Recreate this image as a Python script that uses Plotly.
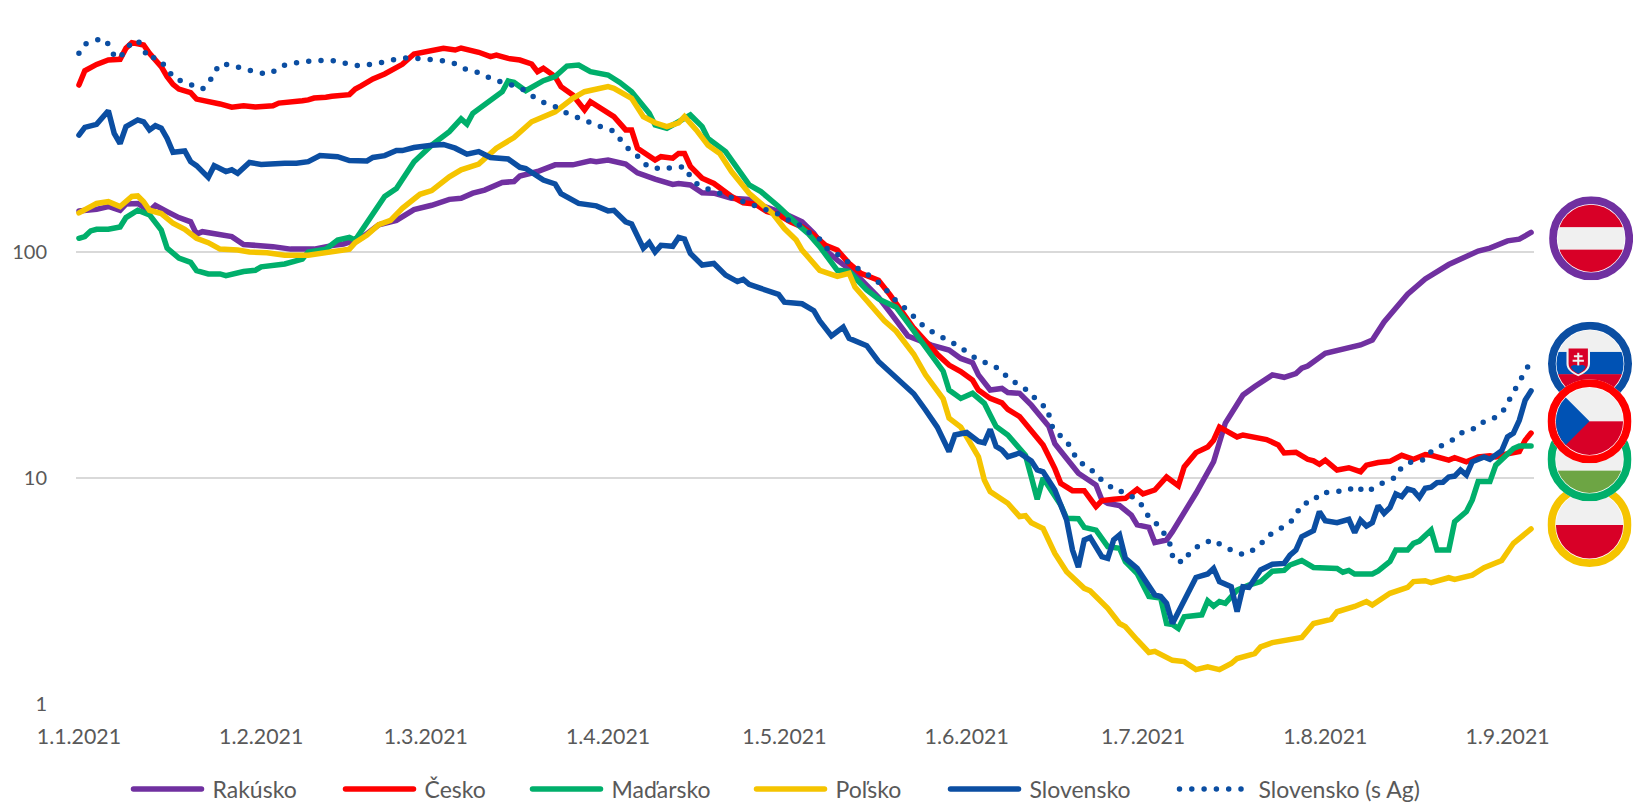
import base64
import pandas as pd
import plotly.graph_objects as go

# (day of 2021 counted from 1 Jan, value)
rakusko = [(0,152),(3,154.5),(5,159),(7,153),(8,163),(10,164),(12,152),(13,161),(15,151),(17,142),(19,136),(20,120),(21,123),(26,117),(28,108),(31,107),(33,105.6),(36,103),(40,103),(43,106.7),(45,108.5),(48,115),(51,132),(54,138),(57,154),(60,161),(63,171),(65,173),(67,182),(69,188),(72,203),(74,205),(75,217),(78,227),(81,243),(84,243),(87,253),(88,251),(90,255),(93,245),(95,224),(98,210),(99,207),(101,199),(102,201),(104,198),(106,183),(108,182),(111,173),(114,171),(116,161),(120,148),(123,136),(125,121),(127,102),(129,92),(132,80.5),(136,63),(138,54),(141,42.5),(145,38.7),(148,36.8),(150,33.8),(152,32.4),(153,28.6),(155,24.5),(157,24.9),(158,23.9),(160,23.7),(162,21),(165,16.9),(166,14.2),(168,12.2),(170,10.5),(173,9.31),(174,8),(175,7.73),(177,7.55),(179,6.86),(180,6.2),(182,6.05),(183,5.18),(185,5.32),(186,5.79),(190,8.56),(193,11.8),(195,17.5),(198,23.3),(200,25.4),(203,28.6),(205,27.9),(207,29),(208,30.6),(209,31.3),(212,35.6),(215,37),(218,38.8),(220,40.8),(222,49),(226,65),(229,76),(233,88),(236,95),(238,101),(240,104),(243,112),(245,114),(247,122)]
cesko = [(0,548),(1,634),(3,676),(5,707),(7,712),(8,797),(9,844),(11,824),(12,757),(14,661),(15,597),(16,552),(17,526),(19,507),(20,475),(22,466),(24,452),(26,437),(28,444),(30,438),(33,444),(34,456),(36,459),(38,467),(39,471),(40,480),(42,484),(43,489),(46,497),(47,526),(48,543),(50,583),(52,613),(55,677),(57,752),(59,770),(62,797),(64,783),(65,799),(68,765),(70,732),(71,744),(73,719),(75,707),(77,679),(78,628),(79,650),(81,597),(82,539),(84,495),(86,425),(87,462),(89,428),(91,397),(93,347),(94,347),(95,288),(97,264),(98,255),(99,264),(101,260),(102,273),(103,273),(104,239),(106,212),(108,201),(111,176),(113,165),(115,163),(117,151),(119,146),(121,136),(123,129),(125,119),(127,107),(129,102),(131,89),(133,80.5),(136,75),(138,64.5),(142,46),(146,35.3),(148,31.6),(150,29.6),(152,27.1),(153,24.5),(155,22.5),(157,21.5),(158,20.1),(160,18.7),(162,16),(163,15),(164,14),(166,11),(167,9.47),(169,8.79),(171,8.79),(173,7.47),(174,7.94),(176,8.05),(178,8.13),(180,8.91),(181,8.5),(183,8.85),(185,10.1),(187,9.25),(188,11.2),(190,12.95),(192,13.7),(193,14.7),(194,16.8),(197,15.2),(198,15.5),(202,14.8),(204,14),(205,12.9),(207,13),(209,12.1),(210,11.9),(211,11.5),(212,12),(214,10.85),(216,11.1),(218,10.66),(219,11.4),(221,11.7),(223,11.85),(225,12.6),(227,12.1),(229,12.7),(230,12.6),(233,12),(234,12.3),(236,11.8),(238,12.4),(240,12.55),(241,12.4),(243,12.8),(245,13.1),(246,14.7),(247,15.8)]
madarsko = [(0,115),(1,117),(2,124),(3,126),(5,126),(7,129),(8,142),(10,153),(12,146),(14,125),(15,104),(17,94),(19,90),(20,82.7),(22,80),(24,80),(25,78.6),(28,82),(30,83),(31,86),(35,88.5),(37,92),(38,93),(39,100),(42,103),(44,113),(46,116),(47,113),(49,136),(52,176),(54,191),(57,251),(60,297),(63,341),(65,388),(66,368),(67,411),(69,447),(72,512),(73,571),(74,563),(76,517),(79,573),(81,597),(83,665),(85,672),(87,628),(90,607),(92,563),(94,512),(97,411),(98,365),(100,353),(102,377),(104,404),(106,359),(107,318),(110,278),(112,234),(114,198),(116,185),(119,159),(122,134),(124,121),(126,105.6),(128,89),(129,83),(131,82),(134,68),(136,62),(139,57),(141,48.6),(143,41.5),(145,35.3),(147,29.7),(148,24.5),(150,22.5),(152,23.7),(154,21.4),(155,19),(156,16.9),(158,15.5),(160,13.5),(161,12.6),(162,10.1),(163,8.05),(164,10),(165,9.15),(167,7.6),(168,6.63),(170,6.6),(171,6.05),(173,5.88),(175,4.97),(177,4.89),(178,4.26),(180,3.78),(182,2.99),(184,2.94),(185,2.27),(186,2.25),(187,2.16),(188,2.43),(191,2.48),(192,2.86),(193,2.71),(194,2.84),(195,2.79),(197,3.19),(199,3.36),(201,3.48),(203,3.87),(205,3.9),(206,4.12),(208,4.31),(210,4.02),(214,3.98),(215,3.83),(216,3.9),(217,3.76),(220,3.76),(221,3.88),(223,4.27),(224,4.8),(226,4.8),(227,5.14),(228,5.26),(230,5.88),(231,4.8),(233,4.8),(234,6.41),(236,7.1),(237,8),(238,9.64),(240,9.64),(241,11.4),(242,12),(244,13.5),(245,13.85),(247,13.85)]
polsko = [(0,149),(2,160),(3,164),(5,167),(7,159),(9,176),(10,177),(11,167),(12,153),(14,148),(16,134),(18,126),(20,115),(22,110),(24,103),(27,102),(29,100),(32,99.3),(35,96.7),(39,96.7),(42,99.3),(46,103),(47,110),(49,119),(51,132),(53,138),(55,156),(58,180),(60,187),(63,215),(65,231),(68,245),(71,288),(74,321),(77,377),(81,417),(84,479),(86,512),(90,539),(91,530),(94,479),(96,397),(98,373),(100,359),(102,373),(103,397),(105,347),(107,297),(109,273),(111,227),(114,182),(118,148),(120,127),(122,113),(123,102),(125,89),(126,83),(129,78),(131,80.5),(132,70),(134,61),(137,49.6),(139,44.6),(142,35.3),(144,28.6),(147,22.4),(148,18.4),(150,16.8),(151,15.2),(153,12.4),(154,9.8),(155,8.7),(158,7.73),(159,7.2),(160,6.75),(161,6.81),(162,6.34),(164,5.98),(165,5.32),(166,4.64),(168,3.85),(171,3.25),(172,3.17),(175,2.65),(177,2.27),(178,2.2),(180,1.92),(182,1.69),(183,1.71),(186,1.56),(188,1.54),(190,1.42),(192,1.46),(194,1.42),(196,1.51),(197,1.59),(200,1.67),(201,1.79),(203,1.87),(207,1.94),(208,1.97),(210,2.27),(213,2.37),(214,2.56),(217,2.7),(219,2.84),(220,2.74),(223,3.09),(226,3.28),(227,3.48),(229,3.51),(230,3.44),(233,3.62),(234,3.56),(237,3.72),(239,4.01),(242,4.31),(244,5.14),(247,5.95)]
slovensko = [(0,329),(1,356),(3,367),(4,390),(5,422),(6,335),(7,302),(8,359),(10,384),(11,377),(12,347),(13,362),(14,353),(15,318),(16,276),(18,280),(19,251),(20,241),(22,214),(23,241),(25,227),(26,231),(27,223),(29,249),(31,244),(35,247),(37,247),(39,251),(41,267),(44,264),(46,254),(49,253),(50,262),(52,267),(54,281),(55,281),(57,290),(60,297),(62,299),(64,288),(66,271),(68,278),(70,262),(73,258),(75,237),(76,234),(79,208),(81,200),(82,181),(85,164),(88,160),(90,152),(91,153),(93,136),(94,133),(96,104),(97,110),(98,100),(99,107),(101,106),(102,116),(103,114),(104,98.6),(106,87.6),(108,89),(110,79),(112,74),(113,75.7),(114,72),(116,69),(119,65),(120,60),(123,59),(125,55),(126,49.6),(128,42.5),(130,46.5),(131,41.5),(134,38.5),(136,32.8),(139,28),(142,23.6),(144,20),(146,16.8),(148,13.1),(149,15.5),(151,15.9),(153,14.5),(154,14.3),(155,16.4),(156,13.8),(157,13.3),(158,12.4),(160,12.9),(162,11.9),(163,10.85),(164,10.65),(166,8.85),(168,6.52),(169,4.8),(170,4.03),(171,5.32),(172,5.46),(174,4.49),(175,4.41),(176,5.32),(177,5.6),(178,4.41),(180,3.98),(183,3.04),(184,2.99),(185,2.79),(186,2.27),(190,3.63),(192,3.76),(193,3.98),(194,3.48),(196,3.3),(197,2.56),(198,3.3),(199,3.28),(201,3.92),(203,4.15),(205,4.19),(206,4.56),(207,4.8),(208,5.5),(210,5.85),(211,7.1),(212,6.47),(214,6.34),(216,6.56),(217,5.73),(218,6.5),(219,6.13),(220,6.34),(221,7.55),(222,6.98),(223,7.4),(224,8.5),(225,8.27),(226,8.94),(227,8.79),(228,8.2),(229,9),(230,9.1),(231,9.54),(232,9.57),(233,10.1),(234,10.2),(235,10.85),(236,10.3),(237,11.8),(238,12.1),(239,12.4),(240,12.1),(242,13.2),(243,15.2),(244,15.8),(245,18),(246,22.1),(247,24.3)]
slovensko_ag = [(0,757),(1,832),(2,849),(4,882),(5,832),(6,737),(7,719),(8,802),(10,867),(11,791),(12,712),(13,727),(15,656),(16,590),(17,577),(19,548),(21,526),(22,552),(23,622),(24,679),(26,672),(28,645),(30,628),(32,611),(34,645),(35,672),(38,695),(40,700),(42,707),(44,700),(46,676),(48,665),(50,676),(52,693),(54,714),(56,725),(58,717),(60,712),(62,702),(64,680),(66,639),(68,622),(70,587),(72,563),(74,544),(76,517),(77,492),(79,459),(81,440),(83,411),(85,390),(87,371),(89,356),(91,343),(92,316),(93,293),(95,266),(96,246),(98,233),(99,238),(101,234),(103,239),(104,216),(105,201),(107,190),(109,182),(111,173),(113,167),(115,161),(117,152),(119,147),(121,137),(123,130),(124,123),(126,114),(127,104.5),(129,98),(130,93),(132,86),(134,80),(135,77),(137,70),(138,64),(141,55),(144,46),(150,37.9),(151,36),(153,33.3),(155,31.8),(157,29.9),(158,27.6),(160,25.8),(162,23.7),(163,21.8),(165,20.1),(165,18),(166,16.1),(168,14.6),(169,13),(170,11.8),(172,11.1),(173,10.2),(175,9.44),(176,8.85),(178,8.64),(180,8),(181,7.47),(182,6.7),(184,6.05),(185,5.46),(186,4.87),(186,4.35),(188,4.24),(189,4.71),(191,5.12),(193,5.32),(194,5.1),(196,4.8),(198,4.58),(199,4.67),(201,5.07),(202,5.5),(204,5.88),(206,6.34),(207,6.86),(208,7.67),(210,7.88),(211,8.55),(214,8.72),(216,8.82),(217,9.25),(219,8.64),(221,9.31),(222,9.57),(224,10.07),(225,11.2),(227,11.9),(229,12.05),(230,13.1),(232,14),(234,14.9),(235,15.8),(237,16.3),(238,17.4),(240,18),(242,19.3),(243,21.5),(244,23.3),(245,26.2),(246,29.4),(247,33)]

tick_days = [0, 31, 59, 90, 120, 151, 181, 212, 243]
tick_labels = ["1.1.2021", "1.2.2021", "1.3.2021", "1.4.2021", "1.5.2021", "1.6.2021", "1.7.2021", "1.8.2021", "1.9.2021"]
y_ticks = [1, 10, 100]

PURPLE, RED, GREEN, YELLOW, BLUE = "#7030A0", "#FF0000", "#00AF6B", "#F5C400", "#0B4EA2"
TEXT = "#595959"
FONT = "Lato"
START = pd.Timestamp("2021-01-01")


def to_dates(days):
    return [START + pd.Timedelta(days=int(d)) for d in days]


series = [
    ("Rakúsko", rakusko, PURPLE, "solid", 129),
    ("Česko", cesko, RED, "solid", 104),
    ("Maďarsko", madarsko, GREEN, "solid", 141),
    ("Poľsko", polsko, YELLOW, "solid", 111),
    ("Slovensko", slovensko, BLUE, "solid", 146),
    ("Slovensko (s Ag)", slovensko_ag, BLUE, "0px,12.3px", 170),
]

fig = go.Figure()
for name, pts, color, dash, lw in series:
    fig.add_trace(go.Scatter(
        x=to_dates([p[0] for p in pts]), y=[p[1] for p in pts], name=name, mode="lines",
        line=dict(color=color, width=5.5, dash=dash), legendwidth=lw, hoverinfo="x+y+name",
    ))


# flag badges
W_R, W_T, H_T = "#F0F0F0", "#D80027", "#0052B4"


def stripes(top, mid, bot):
    return (f'<rect x="0" y="0" width="100" height="37" fill="{top}"/>'
            f'<rect x="0" y="37" width="100" height="26.5" fill="{mid}"/>'
            f'<rect x="0" y="63.5" width="100" height="37" fill="{bot}"/>')


FLAGS = {
    "at": stripes(W_T, W_R, W_T),
    "hu": stripes(W_T, W_R, "#6DA544"),
    "pl": f'<rect width="100" height="50" fill="{W_R}"/><rect y="50" width="100" height="50" fill="{W_T}"/>',
    "cz": (f'<rect width="100" height="50" fill="{W_R}"/><rect y="50" width="100" height="50" fill="{W_T}"/>'
           f'<polygon points="50,50 0,0 0,100" fill="{H_T}"/>'),
    "sk": (f'<rect width="100" height="36" fill="{W_R}"/><rect y="36" width="100" height="27" fill="{H_T}"/>'
           f'<rect y="62.5" width="100" height="38" fill="{W_T}"/>'
           f'<path d="M22,30 H50 V50 C50,58 42,62 36,65 C30,62 22,58 22,50 Z" fill="{W_R}"/>'
           f'<path d="M24.5,32 H47.5 V50 C47.5,57 41,60 36,62.5 C31,60 24.5,57 24.5,50 Z" fill="{W_T}"/>'
           f'<path d="M34.8,37 h2.4 v3 h4 v2.4 h-4 v3 h5.5 v2.4 h-5.5 v5 h-2.4 v-5 h-5.5 v-2.4 h5.5 v-3 h-4 v-2.4 h4 z" fill="{W_R}"/>'
           f'<path d="M27,54 C30,50 33,52 36,52 C39,52 42,50 45,54 C43,58 39,60.5 36,62 C33,60.5 29,58 27,54 Z" fill="{H_T}"/>'),
}


def badge_uri(flag, ring, key):
    svg = (f'<svg xmlns="http://www.w3.org/2000/svg" viewBox="0 0 100 100" width="168" height="168">'
           f'<defs><clipPath id="c{key}"><circle cx="50" cy="50" r="40"/></clipPath></defs>'
           f'<circle cx="50" cy="50" r="50" fill="white"/>'
           f'<g clip-path="url(#c{key})">{flag}</g>'
           f'<circle cx="50" cy="50" r="45.4" fill="none" stroke="{ring}" stroke-width="9.2"/></svg>')
    return "data:image/svg+xml;base64," + base64.b64encode(svg.encode()).decode()


L, R, T, B = 76, 1533.7, 26, 704
badges = [("at", PURPLE, 1590.8, 238.3), ("pl", YELLOW, 1589.2, 525), ("hu", GREEN, 1589.2, 459.3),
          ("sk", BLUE, 1589.7, 363.7), ("cz", RED, 1589.2, 421.3)]
images = []
for key, ring, cx, cy in badges:
    images.append(dict(source=badge_uri(FLAGS[key], ring, key), xref="paper", yref="paper",
                       x=(cx - 42 - L) / (R - L), y=(B - (cy - 42)) / (B - T),
                       sizex=84 / (R - L), sizey=84 / (B - T), xanchor="left", yanchor="top",
                       sizing="stretch", layer="above"))

fig.update_layout(
    width=1633, height=804, autosize=False,
    margin=dict(l=L, r=1633 - R, t=T, b=804 - B, pad=0),
    paper_bgcolor="white", plot_bgcolor="white",
    font=dict(family=FONT, size=21, color=TEXT),
    showlegend=True,
    legend=dict(orientation="h", xref="container", yref="container", x=128.5 / 1633, xanchor="left",
                y=(804 - 789) / 804, yanchor="middle",
                itemwidth=68, tracegroupgap=0, font=dict(family=FONT, size=23, color=TEXT),
                bgcolor="rgba(0,0,0,0)", itemclick=False, itemdoubleclick=False),
    xaxis=dict(type="date", range=["2020-12-31 12:00", "2021-09-05 12:00"], showgrid=False, zeroline=False,
               showline=False, ticks="", tickmode="array", tickvals=to_dates(tick_days), ticktext=tick_labels,
               ticklabelstandoff=18, tickfont=dict(family=FONT, size=21.3, color=TEXT)),
    yaxis=dict(type="log", range=[0, 3], showgrid=True, gridcolor="#D9D9D9", gridwidth=2, zeroline=False,
               showline=False, ticks="", tickmode="array", tickvals=y_ticks, ticktext=[str(v) for v in y_ticks],
               ticklabelstandoff=28, tickfont=dict(family=FONT, size=20, color=TEXT)),
    images=images,
    hovermode="closest",
)

post = ("document.body.style.margin='0';"
        "document.querySelectorAll('path.js-line').forEach(function(p){p.style.strokeLinecap='round';});"
        "document.querySelectorAll('text.legendtext').forEach(function(t){"
        "t.setAttribute('x', parseFloat(t.getAttribute('x')) + 6);});")
fig.write_html("out.html", post_script=post, config=dict(displayModeBar=False))
